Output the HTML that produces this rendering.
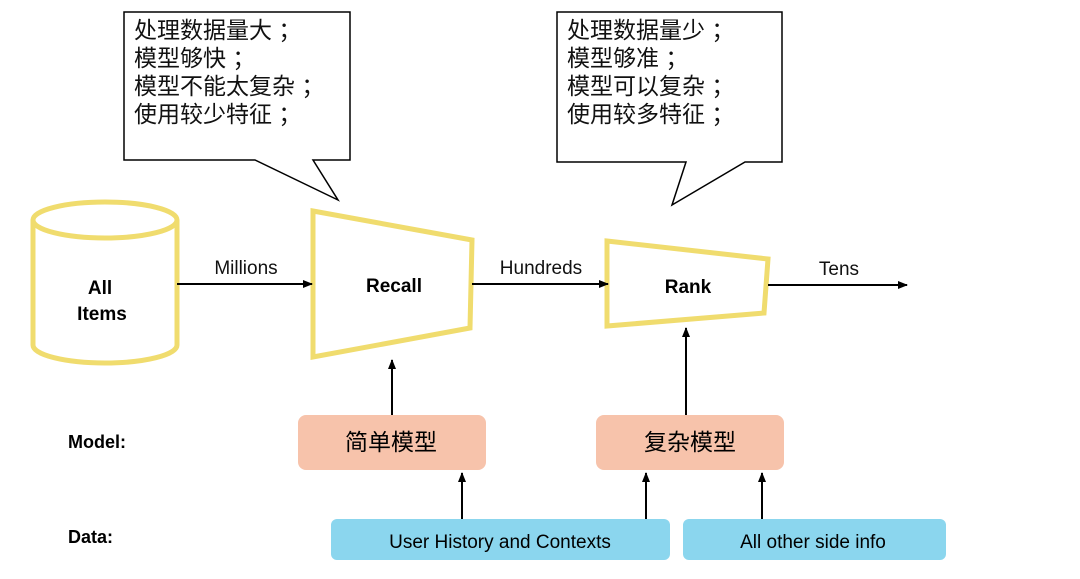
<!DOCTYPE html>
<html><head><meta charset="utf-8"><style>
body{margin:0;background:#fff;}
svg text{font-family:"Liberation Sans","Noto Sans CJK SC",sans-serif;}
</style></head><body>
<svg width="1080" height="574" viewBox="0 0 1080 574" xmlns="http://www.w3.org/2000/svg">
<defs>
<marker id="a" markerWidth="10" markerHeight="8" refX="9" refY="4" orient="auto" markerUnits="userSpaceOnUse"><path d="M0,0 L10,4 L0,8 z" fill="#000"/></marker>
</defs>
<!-- callouts -->
<path d="M124,12 H350 V160 H313 L338,200 L255,160 H124 Z" fill="#fff" stroke="#000" stroke-width="1.5"/>
<path d="M557,12 H782 V162 H745 L672,205 L686,162 H557 Z" fill="#fff" stroke="#000" stroke-width="1.5"/>
<g font-size="23" fill="#111">
<text x="134" y="38">处理数据量大 ；</text>
<text x="134" y="66">模型够快 ；</text>
<text x="134" y="94">模型不能太复杂 ；</text>
<text x="134" y="122">使用较少特征 ；</text>
<text x="567" y="38">处理数据量少 ；</text>
<text x="567" y="66">模型够准 ；</text>
<text x="567" y="94">模型可以复杂 ；</text>
<text x="567" y="122">使用较多特征 ；</text>
</g>
<!-- cylinder -->
<path d="M33,220 V345 A72,18 0 0 0 177,345 V220" fill="#fff" stroke="#f0dc6e" stroke-width="5"/>
<ellipse cx="105" cy="220" rx="72" ry="18" fill="#fff" stroke="#f0dc6e" stroke-width="5"/>
<text x="100" y="294" font-size="19" font-weight="bold" text-anchor="middle">All</text>
<text x="102" y="320" font-size="19" font-weight="bold" text-anchor="middle">Items</text>
<!-- trapezoids -->
<path d="M313,211 L472,240 L470,328 L313,357 Z" fill="#fff" stroke="#f0dc6e" stroke-width="5"/>
<text x="394" y="292" font-size="19" font-weight="bold" text-anchor="middle">Recall</text>
<path d="M607,241 L768,259 L764,313 L607,326 Z" fill="#fff" stroke="#f0dc6e" stroke-width="5"/>
<text x="688" y="293" font-size="19" font-weight="bold" text-anchor="middle">Rank</text>
<!-- arrows -->
<g stroke="#000" stroke-width="2" marker-end="url(#a)">
<line x1="177" y1="284" x2="312" y2="284"/>
<line x1="472" y1="284" x2="608" y2="284"/>
<line x1="768" y1="285" x2="907" y2="285"/>
<line x1="392" y1="415" x2="392" y2="360"/>
<line x1="686" y1="415" x2="686" y2="328"/>
<line x1="462" y1="519" x2="462" y2="473"/>
<line x1="646" y1="519" x2="646" y2="473"/>
<line x1="762" y1="519" x2="762" y2="473"/>
</g>
<g font-size="19" fill="#111">
<text x="246" y="274" text-anchor="middle">Millions</text>
<text x="541" y="274" text-anchor="middle">Hundreds</text>
<text x="839" y="275" text-anchor="middle">Tens</text>
</g>
<!-- model boxes -->
<rect x="298" y="415" width="188" height="55" rx="8" fill="#f7c3ab"/>
<rect x="596" y="415" width="188" height="55" rx="8" fill="#f7c3ab"/>
<text x="391" y="450" font-size="23" text-anchor="middle">简单模型</text>
<text x="690" y="450" font-size="23" text-anchor="middle">复杂模型</text>
<!-- data boxes -->
<rect x="331" y="519" width="339" height="41" rx="6" fill="#8bd6ee"/>
<rect x="683" y="519" width="263" height="41" rx="6" fill="#8bd6ee"/>
<text x="500" y="548" font-size="19" text-anchor="middle">User History and Contexts</text>
<text x="813" y="548" font-size="19" text-anchor="middle">All other side info</text>
<text x="68" y="448" font-size="18" font-weight="bold">Model:</text>
<text x="68" y="543" font-size="18" font-weight="bold">Data:</text>
</svg>
</body></html>
